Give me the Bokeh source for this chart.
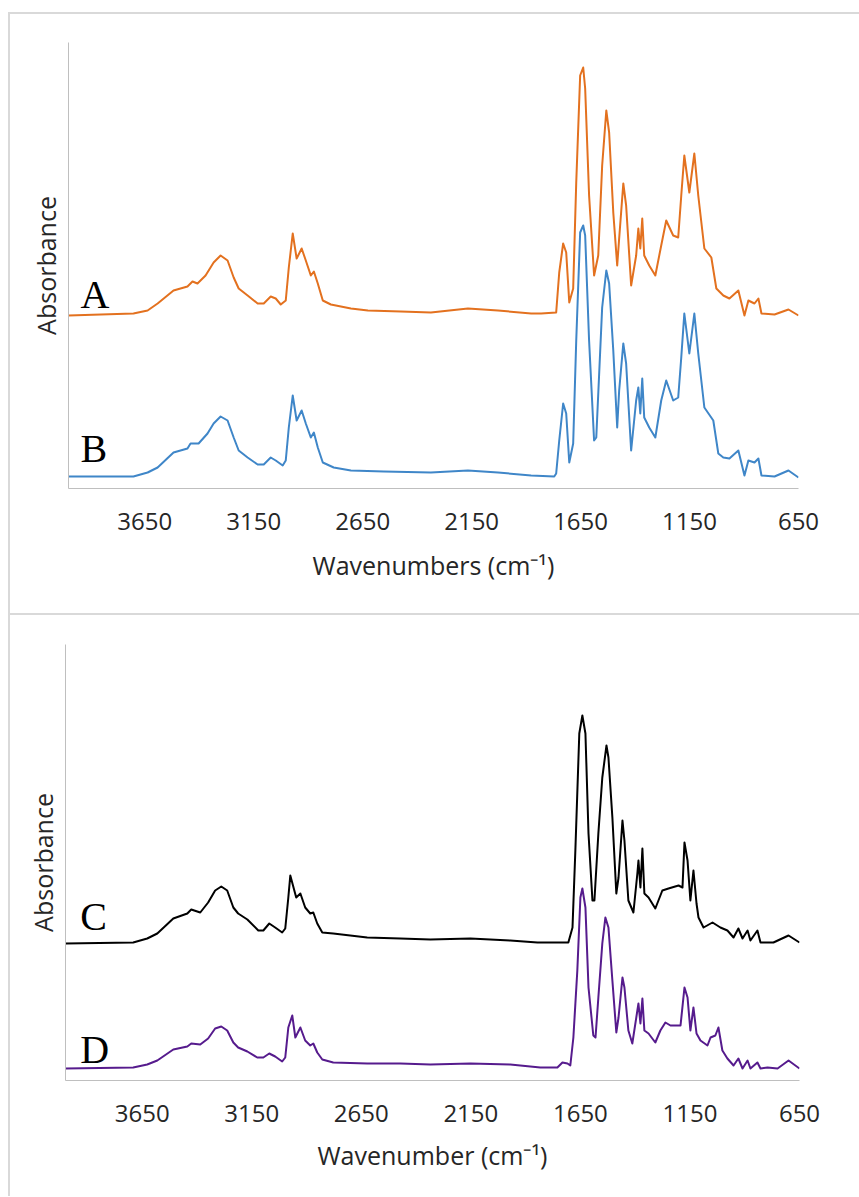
from bokeh.plotting import figure
from bokeh.models import Range1d, FixedTicker, Label, Spacer
from bokeh.layouts import column, row
from bokeh.embed import file_html
from bokeh.resources import INLINE

TICKS = [3650, 3150, 2650, 2150, 1650, 1150, 650]

# Spectrum A (orange)
A_wn = [4000, 3702, 3637, 3591, 3518, 3454, 3431, 3408, 3371, 3334,
        3302, 3270, 3242, 3219, 3178, 3132, 3104, 3072, 3049, 3026,
        3003, 2989, 2971, 2953, 2930, 2911, 2888, 2874, 2856, 2833,
        2796, 2704, 2626, 2475, 2337, 2167, 2029, 1877, 1831, 1762,
        1748, 1730, 1716, 1702, 1684, 1670, 1652, 1638, 1629, 1611,
        1588, 1569, 1551, 1532, 1519, 1500, 1482, 1473, 1454, 1441,
        1418, 1395, 1385, 1376, 1367, 1358, 1335, 1307, 1280, 1257,
        1225, 1202, 1188, 1174, 1151, 1128, 1110, 1082, 1050, 1027,
        995, 967, 926, 898, 880, 852, 834, 820, 760, 696,
        650]
A_abs = [-0.008, 0.0, 0.012, 0.04, 0.092, 0.108, 0.128, 0.12, 0.152, 0.204,
         0.232, 0.212, 0.144, 0.10, 0.072, 0.04, 0.04, 0.068, 0.06, 0.036,
         0.052, 0.184, 0.32, 0.22, 0.26, 0.212, 0.152, 0.168, 0.12, 0.052,
         0.036, 0.02, 0.012, 0.008, 0.004, 0.02, 0.012, 0.0, 0.0, 0.004,
         0.164, 0.28, 0.244, 0.044, 0.10, 0.524, 0.952, 0.984, 0.90, 0.472,
         0.152, 0.232, 0.592, 0.812, 0.724, 0.404, 0.192, 0.30, 0.52, 0.432,
         0.112, 0.232, 0.34, 0.26, 0.38, 0.232, 0.192, 0.152, 0.272, 0.372,
         0.312, 0.304, 0.472, 0.632, 0.484, 0.64, 0.472, 0.26, 0.224, 0.10,
         0.072, 0.06, 0.092, -0.008, 0.052, 0.04, 0.06, 0.0, -0.004, 0.016,
         -0.008]

# Spectrum B (blue)
B_wn = [4000, 3702, 3637, 3591, 3518, 3454, 3440, 3403, 3362, 3334,
        3302, 3270, 3242, 3219, 3178, 3132, 3104, 3072, 3049, 3017,
        3003, 2989, 2971, 2953, 2930, 2911, 2888, 2874, 2856, 2833,
        2783, 2704, 2553, 2337, 2167, 2029, 1877, 1771, 1762, 1748,
        1730, 1716, 1702, 1684, 1670, 1652, 1638, 1629, 1611, 1588,
        1578, 1551, 1532, 1519, 1500, 1482, 1473, 1454, 1441, 1418,
        1395, 1385, 1376, 1367, 1358, 1335, 1307, 1280, 1257, 1225,
        1202, 1188, 1174, 1151, 1128, 1110, 1082, 1041, 1018, 995,
        967, 926, 898, 880, 852, 834, 820, 760, 696, 650]
B_abs = [0.0, 0.0, 0.016, 0.036, 0.096, 0.112, 0.132, 0.132, 0.172, 0.212,
         0.24, 0.224, 0.156, 0.104, 0.076, 0.048, 0.048, 0.076, 0.064, 0.044,
         0.064, 0.196, 0.324, 0.224, 0.264, 0.212, 0.156, 0.176, 0.116, 0.056,
         0.036, 0.024, 0.02, 0.016, 0.024, 0.016, 0.004, 0.0, 0.012, 0.144,
         0.292, 0.252, 0.056, 0.132, 0.544, 0.976, 1.004, 0.964, 0.544, 0.144,
         0.156, 0.676, 0.824, 0.772, 0.504, 0.196, 0.344, 0.532, 0.452, 0.104,
         0.304, 0.356, 0.252, 0.392, 0.236, 0.196, 0.156, 0.304, 0.384, 0.304,
         0.316, 0.476, 0.652, 0.492, 0.652, 0.492, 0.276, 0.224, 0.092, 0.076,
         0.072, 0.104, 0.004, 0.064, 0.056, 0.072, 0.004, 0.0, 0.024, -0.004]

# Spectrum C (black)
C_wn = [4000, 3691, 3627, 3581, 3508, 3444, 3426, 3385, 3349, 3317,
        3289, 3262, 3234, 3212, 3170, 3120, 3097, 3070, 3043, 3011,
        2997, 2983, 2974, 2947, 2928, 2906, 2883, 2869, 2851, 2828,
        2778, 2623, 2472, 2335, 2152, 1970, 1846, 1705, 1686, 1673,
        1655, 1641, 1627, 1613, 1595, 1586, 1568, 1550, 1531, 1522,
        1504, 1486, 1476, 1458, 1449, 1431, 1408, 1390, 1385, 1376,
        1367, 1358, 1339, 1308, 1276, 1248, 1202, 1184, 1175, 1161,
        1148, 1134, 1120, 1111, 1088, 1047, 1011, 979, 951, 929,
        910, 887, 874, 842, 828, 769, 700, 650]
C_abs = [0.0, 0.004, 0.02, 0.04, 0.10, 0.12, 0.136, 0.124, 0.164, 0.212,
         0.228, 0.212, 0.144, 0.12, 0.096, 0.052, 0.052, 0.08, 0.064, 0.044,
         0.06, 0.184, 0.272, 0.184, 0.20, 0.144, 0.12, 0.124, 0.08, 0.044,
         0.04, 0.024, 0.02, 0.016, 0.02, 0.012, 0.004, 0.004, 0.064, 0.372,
         0.84, 0.912, 0.84, 0.44, 0.172, 0.172, 0.44, 0.664, 0.792, 0.744,
         0.504, 0.20, 0.264, 0.492, 0.412, 0.172, 0.124, 0.28, 0.332, 0.224,
         0.38, 0.20, 0.184, 0.14, 0.212, 0.22, 0.232, 0.224, 0.404, 0.332,
         0.172, 0.292, 0.16, 0.104, 0.064, 0.084, 0.064, 0.052, 0.024, 0.06,
         0.02, 0.052, 0.012, 0.052, 0.004, 0.004, 0.032, 0.004]

# Spectrum D (purple)
D_wn = [4000, 3691, 3627, 3581, 3508, 3444, 3426, 3385, 3349, 3317,
        3289, 3262, 3234, 3212, 3170, 3125, 3097, 3070, 3043, 3011,
        2997, 2983, 2965, 2951, 2928, 2906, 2883, 2869, 2851, 2828,
        2778, 2623, 2472, 2335, 2152, 1970, 1833, 1755, 1732, 1709,
        1696, 1682, 1664, 1650, 1641, 1627, 1613, 1591, 1581, 1568,
        1550, 1536, 1522, 1504, 1486, 1476, 1458, 1449, 1431, 1413,
        1390, 1385, 1376, 1367, 1358, 1339, 1308, 1285, 1262, 1239,
        1193, 1175, 1161, 1148, 1134, 1120, 1102, 1070, 1056, 1034,
        1020, 1002, 979, 951, 929, 910, 887, 874, 842, 828,
        796, 750, 700, 650]
D_abs = [-0.004, 0.0, 0.012, 0.028, 0.072, 0.084, 0.096, 0.092, 0.116, 0.156,
         0.164, 0.148, 0.10, 0.08, 0.064, 0.04, 0.04, 0.056, 0.044, 0.024,
         0.04, 0.16, 0.208, 0.12, 0.16, 0.108, 0.088, 0.096, 0.06, 0.032,
         0.02, 0.016, 0.016, 0.012, 0.016, 0.012, 0.0, 0.0, 0.02, 0.016,
         0.008, 0.12, 0.388, 0.68, 0.716, 0.64, 0.32, 0.128, 0.12, 0.28,
         0.496, 0.60, 0.56, 0.348, 0.14, 0.20, 0.36, 0.32, 0.148, 0.096,
         0.228, 0.256, 0.176, 0.276, 0.148, 0.136, 0.10, 0.148, 0.18, 0.168,
         0.168, 0.32, 0.28, 0.148, 0.24, 0.136, 0.108, 0.088, 0.12, 0.128,
         0.16, 0.068, 0.036, 0.008, 0.036, -0.004, 0.028, -0.004, 0.02, -0.004,
         0.0, -0.004, 0.028, -0.004]

for w, a in [(A_wn, A_abs), (B_wn, B_abs), (C_wn, C_abs), (D_wn, D_abs)]:
    assert len(w) == len(a), (len(w), len(a))

# vertical stacking offsets of each spectrum
OFFSETS = {"A": 0.70, "B": 0.048, "C": 0.548, "D": 0.052}
COLORS = {"A": "#E3711F", "B": "#3F86C8", "C": "#000000", "D": "#561B8D"}

BORDER_COLOR = "#D9D9D9"
TEXT = "#262626"
W = 849


def make_fig(height, ymax, xlabel, mb, title_standoff):
    top, bottom, left, right = mb
    p = figure(width=W, height=height,
               x_range=Range1d(4000, 650), y_range=Range1d(0, ymax),
               output_backend="svg", toolbar_location=None,
               min_border_top=top, min_border_bottom=bottom,
               min_border_left=left, min_border_right=right)
    p.grid.visible = False
    p.outline_line_color = None
    p.background_fill_color = "white"
    p.border_fill_color = "white"

    xa = p.xaxis[0]
    xa.ticker = FixedTicker(ticks=TICKS)
    xa.major_tick_line_color = None
    xa.minor_tick_line_color = None
    xa.axis_line_color = "#BFBFBF"
    xa.axis_line_width = 1
    xa.major_label_text_font = "Open Sans"
    xa.major_label_text_font_size = "24px"
    xa.major_label_text_color = TEXT
    xa.major_label_standoff = 18
    xa.axis_label = xlabel
    xa.axis_label_text_font = "Open Sans"
    xa.axis_label_text_font_size = "25px"
    xa.axis_label_text_font_style = "normal"
    xa.axis_label_text_color = TEXT
    xa.axis_label_standoff = title_standoff

    ya = p.yaxis[0]
    ya.ticker = FixedTicker(ticks=[])
    ya.major_tick_line_color = None
    ya.minor_tick_line_color = None
    ya.major_label_text_font_size = "0px"
    ya.axis_line_color = "#BFBFBF"
    ya.axis_line_width = 1
    ya.axis_label = "Absorbance"
    ya.axis_label_text_font = "Open Sans"
    ya.axis_label_text_font_size = "25px"
    ya.axis_label_text_font_style = "normal"
    ya.axis_label_text_color = TEXT
    ya.axis_label_standoff = 6
    return p


def add_series(p, key, wn, ab):
    off = OFFSETS[key]
    p.line(list(wn), [a + off for a in ab], line_color=COLORS[key],
           line_width=2, line_join="round")


def add_letter(p, text, x, y):
    p.add_layout(Label(x=x, y=y, text=text, text_font="Liberation Serif",
                       text_font_size="40px", text_color="#000000",
                       text_baseline="alphabetic", text_align="left"))


def rule(width, height):
    return Spacer(width=width, height=height,
                  styles={"background-color": BORDER_COLOR})


# top panel: spectra A and B
p1 = make_fig(599, 1.784, "Wavenumbers (cm\u207b\u00b9)", (28, 125, 58, 61), 15)
add_series(p1, "A", A_wn, A_abs)
add_series(p1, "B", B_wn, B_abs)
add_letter(p1, "A", 3945, 0.776)
add_letter(p1, "B", 3945, 0.16)

# bottom panel: spectra C and D
p2 = make_fig(581, 1.744, "Wavenumber (cm\u207b\u00b9)", (29, 116, 55, 60), 13)
add_series(p2, "C", C_wn, C_abs)
add_series(p2, "D", D_wn, D_abs)
add_letter(p2, "C", 3933, 0.656)
add_letter(p2, "D", 3933, 0.124)

layout = column(
    Spacer(width=859, height=12),
    row(Spacer(width=8, height=2), rule(851, 2), spacing=0),
    row(Spacer(width=8, height=599), rule(2, 599), p1, spacing=0),
    row(Spacer(width=8, height=2), rule(851, 2), spacing=0),
    row(Spacer(width=8, height=581), rule(2, 581), p2, spacing=0),
    spacing=0,
)
open("out.html", "w").write(file_html(layout, INLINE))
